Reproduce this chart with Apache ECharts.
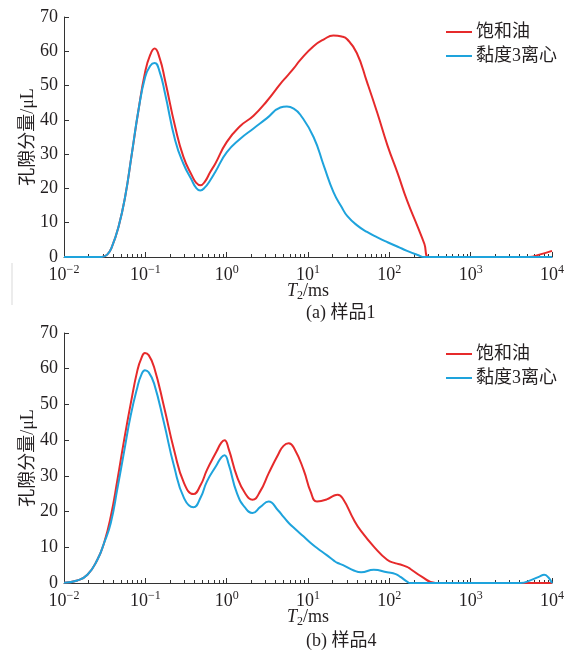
<!DOCTYPE html>
<html>
<head>
<meta charset="utf-8">
<script src="https://cdn.jsdelivr.net/npm/echarts@6/dist/echarts.min.js"></script>
<style>
html,body{margin:0;padding:0;background:#fff;}
#chart{width:569px;height:655px;}
</style>
</head>
<body>
<div id="chart"></div>
<script>
// ---------- data ----------
const seriesNames = ['饱和油', '黏度3离心'];
const captionA = '(a) 样品1';
const captionB = '(b) 样品4';
const yTicks = [0, 10, 20, 30, 40, 50, 60, 70];
const decadeExponents = [-2, -1, 0, 1, 2, 3, 4];
const minorMultipliers = [2, 3, 4, 5, 6, 7, 8, 9];

// Sample 1 (top)
const t2A = [0.01, 0.02, 0.029, 0.034, 0.0387, 0.0467, 0.0564, 0.0682, 0.0823, 0.0995, 0.115, 0.13, 0.15, 0.175, 0.233, 0.294, 0.373, 0.42, 0.473, 0.54, 0.628, 0.724, 1.0, 1.47, 2.14, 3.13, 4.57, 5.5, 6.67, 8.05, 11.7, 15.7, 20.5, 26, 30.3, 39.8, 53.2, 71.2, 95, 127, 165, 224, 270, 304, 1000, 5200, 7000, 10000];
const oilA = [0, 0, 0, 0.7, 2.9, 8.7, 17.5, 30.1, 42.8, 54, 59, 60.8, 58, 51.5, 37.9, 29.2, 23.8, 21.7, 20.9, 22, 24.8, 27.2, 33.5, 38.2, 41.2, 45.5, 50.5, 52.7, 55, 57.5, 61.5, 63.5, 64.6, 64.3, 63.5, 59.5, 51, 42, 32.5, 24.3, 16.5, 8.7, 3.8, 0, 0, 0, 0.7, 1.8];
const cenA = [0, 0, 0, 0.7, 2.9, 8.7, 17.5, 30.1, 42.8, 52.5, 55.8, 56.6, 54, 47.6, 34, 27.2, 22.4, 20.2, 19.4, 20.3, 22.4, 24.8, 30.5, 34.5, 37.5, 40.5, 43.6, 43.9, 43.3, 41.5, 35, 26.5, 19, 14.5, 12, 9.3, 7.3, 5.7, 4.3, 3, 1.8, 0.6, 0, 0, 0, 0, 0, 0];

// Sample 4 (bottom)
const t2B = [0.01, 0.0146, 0.0194, 0.0257, 0.0311, 0.0376, 0.0454, 0.0548, 0.0662, 0.08, 0.089, 0.099, 0.11, 0.128, 0.17, 0.226, 0.3, 0.39, 0.48, 0.571, 0.75, 0.86, 0.94, 1.06, 1.34, 1.7, 2.08, 2.6, 3.28, 4.3, 5.0, 5.8, 6.8, 8.85, 10.8, 12.9, 17, 21, 23.2, 27, 36.6, 45, 64.4, 94, 120, 137, 165, 180, 250, 370, 4100, 5500, 7000, 8000, 9000, 10000];
const oilB = [0.1, 0.7, 2.3, 6.5, 11.2, 18.6, 28.9, 40, 50.3, 59.6, 62.8, 64.4, 63.8, 60.5, 49.3, 37.2, 27.9, 24.9, 27.5, 31.6, 36.8, 39.3, 40, 37.5, 29.8, 25, 23.3, 25.8, 30.7, 36, 38.4, 39.1, 37.6, 31.6, 25.5, 22.8, 23.4, 24.5, 24.7, 23.5, 17.7, 14.5, 10.2, 6.5, 5.5, 5.2, 4.5, 4.0, 1.8, 0, 0, 0, 0, 0, 0, 0];
const cenB = [0.1, 0.7, 2.3, 6.5, 11.2, 16.8, 26.5, 36.8, 47, 54.9, 58.2, 59.6, 59, 55.9, 44.7, 32.6, 23.7, 21.2, 24, 28.4, 33, 35.2, 35.8, 33.2, 25.1, 21, 19.6, 21.3, 22.8, 20.3, 18.5, 16.8, 15.3, 13, 11.2, 9.8, 7.8, 6.2, 5.6, 5, 3.5, 3.0, 3.7, 3.0, 2.5, 1.7, 0.4, 0, 0, 0, 0, 0.8, 1.8, 2.3, 1.6, 0];

// ---------- styling ----------
const RED = '#e62a2b';
const BLUE = '#1ea3dc';
const TXT = '#231f20';
const AX = '#333333';
const SERIF = '"Liberation Serif", "Noto Sans CJK SC", serif';

const pair = (xs, ys) => xs.map((x, i) => [x, ys[i]]);
const minorVals = [];
decadeExponents.slice(0, -1).forEach(e => minorMultipliers.forEach(m => minorVals.push(e + Math.log10(m))));

function supLabel(v) {
  const e = Math.round(Math.log10(v));
  const s = e < 0 ? '\u2212' + Math.abs(e) : String(e);
  return '{b|10}{s|' + s + '}';
}

function makeX(gridIndex) {
  return [
    {
      type: 'log', logBase: 10, gridIndex: gridIndex,
      min: Math.pow(10, decadeExponents[0]), max: Math.pow(10, decadeExponents[decadeExponents.length - 1]),
      splitNumber: decadeExponents.length - 1,
      position: 'bottom',
      axisLine: { show: true, onZero: false, lineStyle: { color: AX, width: 1 } },
      axisTick: { show: true, inside: true, length: 5, lineStyle: { color: AX } },
      splitLine: { show: false },
      axisLabel: {
        margin: 7, formatter: supLabel,
        rich: {
          b: { fontFamily: SERIF, fontSize: 18, color: TXT, lineHeight: 22 },
          s: { fontFamily: SERIF, fontSize: 12, color: TXT, verticalAlign: 'top', lineHeight: 12 }
        }
      },
      name: '{i|T}{sub|2}{n|/ms}',
      nameLocation: 'middle', nameGap: 23, nameMoveOverlap: false,
      nameTextStyle: {
        rich: {
          i: { fontFamily: SERIF, fontStyle: 'italic', fontSize: 18, color: TXT, lineHeight: 22 },
          sub: { fontFamily: SERIF, fontSize: 12, color: TXT, verticalAlign: 'bottom', lineHeight: 12 },
          n: { fontFamily: SERIF, fontSize: 18, color: TXT, lineHeight: 22 }
        }
      }
    },
    {
      type: 'value', gridIndex: gridIndex, position: 'bottom',
      min: decadeExponents[0], max: decadeExponents[decadeExponents.length - 1],
      axisLine: { show: false, onZero: false },
      axisLabel: { show: false },
      splitLine: { show: false },
      axisTick: { show: true, inside: true, length: 3, customValues: minorVals, lineStyle: { color: AX } }
    }
  ];
}

function makeY(gridIndex) {
  return {
    type: 'value', gridIndex: gridIndex,
    min: yTicks[0], max: yTicks[yTicks.length - 1], interval: 10,
    axisLine: { show: true, onZero: false, lineStyle: { color: AX, width: 1 } },
    axisTick: { show: true, inside: true, length: 5, lineStyle: { color: AX } },
    splitLine: { show: false },
    axisLabel: { margin: 6, fontFamily: SERIF, fontSize: 18, color: TXT },
    name: '孔隙分量/μL',
    nameLocation: 'middle', nameGap: 27, nameMoveOverlap: false,
    nameTextStyle: { fontFamily: SERIF, fontSize: 18, color: TXT }
  };
}

function line(name, color, data, xi, yi) {
  return {
    type: 'line', name: name, data: data,
    xAxisIndex: xi, yAxisIndex: yi,
    smooth: 0.5, showSymbol: false, symbol: 'none',
    clip: false,
    lineStyle: { color: color, width: 2 },
    itemStyle: { color: color },
    emphasis: { disabled: true }
  };
}

const legendBase = {
  orient: 'vertical', left: 441,
  itemWidth: 26, itemHeight: 12, itemGap: 6,
  icon: 'path://M0,5L26,5L26,7L0,7Z',
  textStyle: { fontFamily: SERIF, fontSize: 18, color: TXT, padding: [0, 0, 0, -1] },
  data: seriesNames
};

const chart = echarts.init(document.getElementById('chart'), null, { renderer: 'canvas' });
chart.setOption({
  animation: false,
  backgroundColor: '#ffffff',
  grid: [
    { left: 64, right: 17, top: 17, height: 240 },
    { left: 64, right: 17, top: 333, height: 250 }
  ],
  xAxis: makeX(0).concat(makeX(1)),
  yAxis: [makeY(0), makeY(1)],
  legend: [
    Object.assign({}, legendBase, { top: 18 }),
    Object.assign({}, legendBase, { top: 340 })
  ],
  series: [
    line(seriesNames[0], RED, pair(t2A, oilA), 0, 0),
    line(seriesNames[1], BLUE, pair(t2A, cenA), 0, 0),
    line(seriesNames[0], RED, pair(t2B, oilB), 2, 1),
    line(seriesNames[1], BLUE, pair(t2B, cenB), 2, 1)
  ],
  graphic: [
    { type: 'text', left: 306, top: 304, style: { text: captionA, fontFamily: SERIF, fontSize: 18, fill: TXT, textAlign: 'center' } },
    { type: 'text', left: 306, top: 632, style: { text: captionB, fontFamily: SERIF, fontSize: 18, fill: TXT, textAlign: 'center' } },
    { type: 'line', shape: { x1: 12, y1: 263, x2: 12, y2: 305 }, style: { stroke: '#d9d9d9', lineWidth: 1 } }
  ]
});
</script>
</body>
</html>
